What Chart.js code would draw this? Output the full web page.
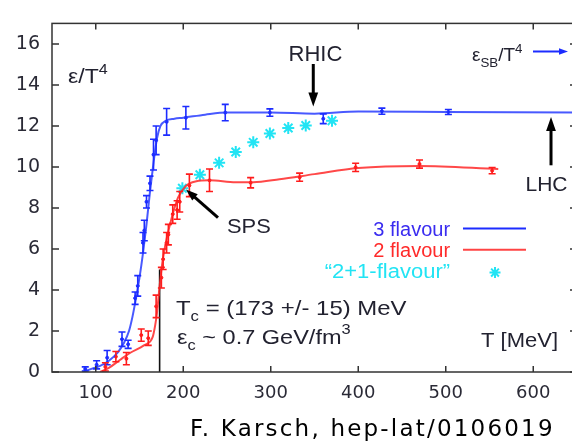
<!DOCTYPE html>
<html>
<head>
<meta charset="utf-8">
<script src="https://cdn.jsdelivr.net/npm/chart.js@4.4.0/dist/chart.umd.min.js"></script>
<style>
html, body { margin: 0; padding: 0; background: #fff; overflow: hidden; }
#wrap { position: relative; width: 590px; height: 441px; }
</style>
</head>
<body>
<div id="wrap"><canvas id="chart" width="590" height="441"></canvas></div>
<script>
// 3 flavour lattice points (T in MeV, eps/T^4, error)
const blueT   = [88, 101, 113, 130, 137, 145, 148, 154, 155.5, 158, 162, 166, 169, 181, 203, 248, 299, 360, 427, 503];
const blueE   = [0.15, 0.35, 0.7, 1.6, 1.35, 3.6, 4.2, 6.3, 6.9, 8.3, 9.2, 10.6, 11.3, 12.2, 12.4, 12.65, 12.65, 12.35, 12.72, 12.68];
const blueErr = [0.1, 0.2, 0.35, 0.35, 0.2, 0.3, 0.5, 0.5, 0.5, 0.3, 0.35, 0.75, 0.7, 0.65, 0.55, 0.4, 0.18, 0.24, 0.15, 0.12];

// 3 flavour curve
const blueFitT = [85, 95, 105, 115, 125, 132, 138, 142, 146, 150, 154, 158, 162, 166, 170, 174, 180, 190, 200, 225, 250, 300, 350, 400, 500, 650];
const blueFitE = [0, 0.15, 0.3, 0.55, 0.95, 1.4, 2.0, 2.7, 3.6, 4.6, 5.8, 7.2, 8.8, 10.2, 11.4, 12.0, 12.25, 12.35, 12.4, 12.55, 12.65, 12.65, 12.6, 12.7, 12.68, 12.65];

// 2 flavour lattice points
const redT   = [111, 123, 135, 152, 160, 169, 175, 177, 181, 183, 188, 193, 196, 207, 230, 277, 333, 397, 470, 553];
const redE   = [0.25, 0.75, 0.65, 1.8, 1.65, 3.2, 4.6, 5.5, 6.3, 6.7, 7.7, 7.9, 8.3, 9.1, 9.35, 9.23, 9.5, 9.98, 10.14, 9.82];
const redErr = [0.2, 0.25, 0.3, 0.3, 0.35, 0.55, 0.5, 0.5, 0.5, 0.5, 0.45, 0.45, 0.5, 0.55, 0.55, 0.25, 0.2, 0.2, 0.2, 0.15];

// 2 flavour curve
const redFitT = [105, 115, 128, 140, 155, 165, 168, 170, 173, 176, 181, 187, 194, 203, 215, 230, 260, 280, 310, 350, 400, 470, 560];
const redFitE = [0, 0.2, 0.6, 0.95, 1.3, 1.7, 2.3, 2.9, 4.2, 5.3, 6.5, 7.55, 8.5, 9.07, 9.3, 9.35, 9.25, 9.25, 9.4, 9.65, 9.95, 10.05, 9.9];

// "2+1-flavour" estimate
const cyanT = [199, 219, 241, 260, 280, 299, 320, 340, 370];
const cyanE = [8.96, 9.62, 10.2, 10.73, 11.2, 11.63, 11.9, 12.02, 12.25];

// T_c marker
const tcT = [173, 173];
const tcE = [0, 5];

const xTicks = [100, 200, 300, 400, 500, 600];
const yTicks = [0, 2, 4, 6, 8, 10, 12, 14, 16];

const BLUE = "#1c2cff";
const RED = "#ff1c1c";
const CYAN = "#22e4f4";
const INK = "#222230";
const SANS = "'Liberation Sans', Arial, sans-serif";

function pts(xs, ys) {
    return xs.map((x, i) => ({ x: x, y: ys[i] }));
}

// text with sub/superscripts; sx stretches it horizontally
function drawRich(ctx, parts, x, y, size, color, align, sx) {
    sx = sx || 1;
    let w = 0;
    parts.forEach(p => {
        const s = (p.sub || p.sup) ? size * 0.7 : size;
        ctx.font = s + "px " + SANS;
        p.w = ctx.measureText(p.t).width;
        w += p.w;
    });
    w *= sx;
    let cx = align === "right" ? x - w : align === "center" ? x - w / 2 : x;
    ctx.save();
    ctx.translate(cx, y);
    ctx.scale(sx, 1);
    ctx.fillStyle = color;
    ctx.textAlign = "left";
    ctx.textBaseline = "alphabetic";
    let px = 0;
    parts.forEach(p => {
        const s = (p.sub || p.sup) ? size * 0.7 : size;
        ctx.font = s + "px " + SANS;
        const dy = p.sub ? size * 0.3 : p.sup ? -size * 0.45 : 0;
        ctx.fillText(p.t, px, dy);
        px += p.w;
    });
    ctx.restore();
}

function arrow(ctx, x1, y1, x2, y2, color, lw, head) {
    const a = Math.atan2(y2 - y1, x2 - x1);
    const c = Math.cos(a), s = Math.sin(a);
    ctx.save();
    ctx.strokeStyle = color;
    ctx.fillStyle = color;
    ctx.lineWidth = lw;
    ctx.beginPath();
    ctx.moveTo(x1, y1);
    ctx.lineTo(x2 - c * head * 0.8, y2 - s * head * 0.8);
    ctx.stroke();
    ctx.beginPath();
    ctx.moveTo(x2, y2);
    ctx.lineTo(x2 - head * c + head * 0.35 * s, y2 - head * s - head * 0.35 * c);
    ctx.lineTo(x2 - head * c - head * 0.35 * s, y2 - head * s + head * 0.35 * c);
    ctx.closePath();
    ctx.fill();
    ctx.restore();
}

function asterisk(ctx, x, y, r, color) {
    ctx.save();
    ctx.strokeStyle = color;
    ctx.lineWidth = 2;
    ctx.beginPath();
    for (let k = 0; k < 4; k++) {
        const a = k * Math.PI / 4;
        ctx.moveTo(x - r * Math.cos(a), y - r * Math.sin(a));
        ctx.lineTo(x + r * Math.cos(a), y + r * Math.sin(a));
    }
    ctx.stroke();
    ctx.restore();
}

// vertical error bars for datasets that carry them
const errorBarPlugin = {
    id: "errorBars",
    afterDatasetsDraw(chart) {
        const ctx = chart.ctx;
        const xs = chart.scales.x, ys = chart.scales.y;
        chart.data.datasets.forEach(ds => {
            if (!ds.errorBars) return;
            ctx.save();
            ctx.strokeStyle = ds.borderColor;
            ctx.lineWidth = 1.6;
            ds.data.forEach((p, j) => {
                const e = ds.errorBars[j];
                const x = xs.getPixelForValue(p.x);
                const y1 = ys.getPixelForValue(p.y - e);
                const y2 = ys.getPixelForValue(p.y + e);
                ctx.beginPath();
                ctx.moveTo(x, y1); ctx.lineTo(x, y2);
                ctx.moveTo(x - 3.5, y1); ctx.lineTo(x + 3.5, y1);
                ctx.moveTo(x - 3.5, y2); ctx.lineTo(x + 3.5, y2);
                ctx.stroke();
            });
            ctx.restore();
        });
    }
};

// frame, inward ticks, labels, arrows, legend
const decorPlugin = {
    id: "decor",
    afterDraw(chart) {
        const ctx = chart.ctx;
        const a = chart.chartArea;
        const X = v => chart.scales.x.getPixelForValue(v);
        const Y = v => chart.scales.y.getPixelForValue(v);

        ctx.save();
        ctx.strokeStyle = "#333";
        ctx.lineWidth = 1.5;
        ctx.strokeRect(a.left, a.top, a.right - a.left, a.bottom - a.top);
        ctx.beginPath();
        xTicks.forEach(v => {
            ctx.moveTo(X(v), a.bottom); ctx.lineTo(X(v), a.bottom - 6);
            ctx.moveTo(X(v), a.top); ctx.lineTo(X(v), a.top + 6);
        });
        yTicks.forEach(v => {
            ctx.moveTo(a.left, Y(v)); ctx.lineTo(a.left + 7, Y(v));
            ctx.moveTo(a.right, Y(v)); ctx.lineTo(a.right - 7, Y(v));
        });
        ctx.stroke();
        ctx.restore();

        // arrows
        arrow(ctx, X(348.6), Y(15.02), X(348.6), Y(12.95), "#000", 3, 14);
        arrow(ctx, X(620.3), Y(10.08), X(620.3), Y(12.43), "#000", 3, 14);
        arrow(ctx, X(239.7), Y(7.53), X(203.1), Y(8.9), "#000", 3, 12);
        arrow(ctx, X(599.7), Y(15.63), X(639.7), Y(15.63), BLUE, 2, 9);

        // labels
        drawRich(ctx, [{ t: "ε/T" }, { t: "4", sup: true }], X(68.3), Y(14.08), 20, INK, "left", 1.15);
        drawRich(ctx, [{ t: "RHIC" }], X(351.1), Y(15.16), 22, INK, "center");
        drawRich(ctx, [{ t: "LHC" }], X(615.1), Y(8.81), 21, INK, "center");
        drawRich(ctx, [{ t: "SPS" }], X(250), Y(6.78), 21, INK, "left", 1.04);
        drawRich(ctx, [{ t: "ε" }, { t: "SB", sub: true }, { t: "/T" }, { t: "4", sup: true }], X(530), Y(15.16), 19, INK, "left");
        drawRich(ctx, [{ t: "T" }, { t: "c", sub: true }, { t: " = (173 +/- 15) MeV" }], X(191.7), Y(2.78), 21, INK, "left", 1.14);
        drawRich(ctx, [{ t: "ε" }, { t: "c", sub: true }, { t: " ~ 0.7 GeV/fm" }, { t: "3", sup: true }], X(192.9), Y(1.37), 21, INK, "left", 1.12);
        drawRich(ctx, [{ t: "T [MeV]" }], X(628.3), Y(1.22), 20, INK, "right", 1.1);

        // legend
        drawRich(ctx, [{ t: "3 flavour" }], X(504.9), Y(6.64), 20, "#3a2cf0", "right");
        drawRich(ctx, [{ t: "2 flavour" }], X(504.9), Y(5.60), 20, "#ff2a2a", "right");
        drawRich(ctx, [{ t: "\u201C2+1-flavour\u201D" }], X(504.9), Y(4.57), 20, CYAN, "right", 1.1);
        ctx.save();
        ctx.lineWidth = 2;
        ctx.strokeStyle = BLUE;
        ctx.beginPath(); ctx.moveTo(X(519.7), Y(7.0)); ctx.lineTo(X(591.7), Y(7.0)); ctx.stroke();
        ctx.strokeStyle = "#ff4444";
        ctx.beginPath(); ctx.moveTo(X(519.7), Y(5.96)); ctx.lineTo(X(591.7), Y(5.96)); ctx.stroke();
        ctx.restore();
        asterisk(ctx, X(556.3), Y(4.85), 5.5, CYAN);

        // credit line
        ctx.save();
        ctx.font = "23px 'DejaVu Sans', Verdana, sans-serif";
        ctx.letterSpacing = "2.2px";
        ctx.fillStyle = "#000";
        ctx.textAlign = "left";
        ctx.textBaseline = "alphabetic";
        ctx.fillText("F. Karsch, hep-lat/0106019", 190, 436);
        ctx.restore();
    }
};

new Chart(document.getElementById("chart"), {
    data: {
        datasets: [
            {
                type: "line", data: pts(blueFitT, blueFitE),
                borderColor: "rgba(40,60,255,0.85)", borderWidth: 2,
                pointRadius: 0, cubicInterpolationMode: "monotone"
            },
            {
                type: "line", data: pts(redFitT, redFitE),
                borderColor: "rgba(255,40,40,0.85)", borderWidth: 2,
                pointRadius: 0, cubicInterpolationMode: "monotone"
            },
            {
                type: "line", data: pts(tcT, tcE),
                borderColor: "#111", borderWidth: 1.6, pointRadius: 0
            },
            {
                type: "scatter", data: pts(blueT, blueE), errorBars: blueErr,
                borderColor: BLUE, backgroundColor: BLUE, pointRadius: 1.5
            },
            {
                type: "scatter", data: pts(redT, redE), errorBars: redErr,
                borderColor: RED, backgroundColor: RED, pointRadius: 1.5
            },
            {
                type: "scatter", data: pts(cyanT, cyanE),
                borderColor: CYAN, backgroundColor: CYAN,
                pointStyle: "star", pointRadius: 6, borderWidth: 2
            }
        ]
    },
    options: {
        responsive: false,
        animation: false,
        events: [],
        layout: { padding: { top: 11, right: 13, left: 0, bottom: 0 } },
        plugins: { legend: { display: false }, tooltip: { enabled: false } },
        scales: {
            x: {
                type: "linear", position: "bottom", min: 50, max: 650,
                grid: { display: false, drawTicks: false },
                border: { display: false },
                afterBuildTicks: s => { s.ticks = xTicks.map(v => ({ value: v })); },
                afterFit: s => { s.height = 69; },
                ticks: {
                    padding: 11, color: "#2a2a36", maxRotation: 0,
                    font: { family: "'DejaVu Sans', Verdana, sans-serif", size: 18 }
                }
            },
            y: {
                type: "linear", min: 0, max: 17,
                grid: { display: false, drawTicks: false },
                border: { display: false },
                afterBuildTicks: s => { s.ticks = yTicks.map(v => ({ value: v })); },
                afterFit: s => { s.width = 52; },
                ticks: {
                    padding: 12, color: "#2a2a36",
                    font: { family: "'DejaVu Sans', Verdana, sans-serif", size: 19 }
                }
            }
        }
    },
    plugins: [errorBarPlugin, decorPlugin]
});
</script>
</body>
</html>
